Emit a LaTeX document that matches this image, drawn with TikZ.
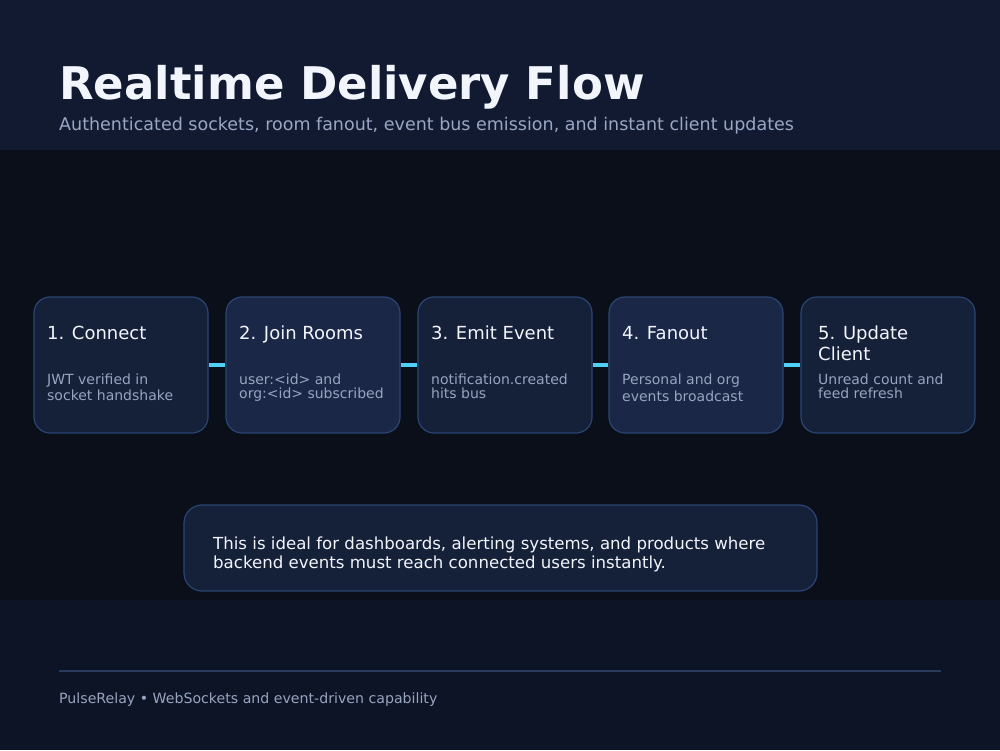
\documentclass[tikz,border=0pt]{standalone}
\usepackage{fontspec}
\setmainfont{DejaVu Sans}
\definecolor{hdrbg}{HTML}{111A30}
\definecolor{midbg}{HTML}{0A0F1A}
\definecolor{ftrbg}{HTML}{0D1426}
\definecolor{boxA}{HTML}{152039}
\definecolor{boxB}{HTML}{1A2746}
\definecolor{boxline}{HTML}{2B4573}
\definecolor{titlec}{HTML}{F2F5FC}
\definecolor{subc}{HTML}{9AA7C4}
\definecolor{desc}{HTML}{98A4C0}
\definecolor{wire}{HTML}{4FCFF3}
\definecolor{rule}{HTML}{2A3C5E}
\tikzset{
  stepbox/.style={draw=boxline, line width=1.2pt, rounded corners=16pt, minimum width=174pt, minimum height=136pt, inner sep=0pt},
  steptitle/.style={anchor=base west, inner sep=0pt, font=\fontsize{18}{21}\selectfont, text=titlec},
  stepdesc/.style={anchor=base west, inner sep=0pt, font=\fontsize{14}{15}\selectfont, text=desc},
  wirestyle/.style={draw=wire, line width=4pt},
  notetext/.style={anchor=base west, inner sep=0pt, font=\fontsize{16.6}{19}\selectfont, text=titlec},
}
\begin{document}
\begin{tikzpicture}[x=1pt,y=-1pt]
\useasboundingbox (0,0) rectangle (1000,750);
\fill[midbg] (0,0) rectangle (1000,750);
\fill[hdrbg] (0,0) rectangle (1000,150);
\fill[ftrbg] (0,600) rectangle (1000,750);
\node[anchor=base west, inner sep=0pt, font=\fontsize{45}{50}\selectfont\bfseries, text=titlec] (title) at (59,99) {Realtime Delivery Flow};
\node[anchor=base west, inner sep=0pt, font=\fontsize{17.5}{20}\selectfont, text=subc] (sub) at (59,130) {Authenticated sockets, room fanout, event bus emission, and instant client updates};
% boxes
\node[stepbox, fill=boxA] (b1) at (121,365) {};
\node[stepbox, fill=boxB] (b2) at (313,365) {};
\node[stepbox, fill=boxA] (b3) at (505,365) {};
\node[stepbox, fill=boxB] (b4) at (696,365) {};
\node[stepbox, fill=boxA] (b5) at (888,365) {};
\draw[wirestyle] (b1.east) -- (b2.west);
\draw[wirestyle] (b2.east) -- (b3.west);
\draw[wirestyle] (b3.east) -- (b4.west);
\draw[wirestyle] (b4.east) -- (b5.west);
% texts
\node[steptitle] (t1) at (47,339) {1. Connect};
\node[stepdesc] (d1a) at (47,384) {JWT verified in};
\node[stepdesc] (d1b) at (47,400) {socket handshake};
\node[steptitle] (t2) at (239,339) {2. Join Rooms};
\node[stepdesc] (d2a) at (239,384) {user:<id> and};
\node[stepdesc] (d2b) at (239,398) {org:<id> subscribed};
\node[steptitle] (t3) at (431,339) {3. Emit Event};
\node[stepdesc] (d3a) at (431,384) {notification.created};
\node[stepdesc] (d3b) at (431,398) {hits bus};
\node[steptitle] (t4) at (622,339) {4. Fanout};
\node[stepdesc] (d4a) at (622,384) {Personal and org};
\node[stepdesc] (d4b) at (622,401) {events broadcast};
\node[steptitle] (t5a) at (818,339) {5. Update};
\node[steptitle] (t5b) at (818,360) {Client};
\node[stepdesc] (d5a) at (818,384) {Unread count and};
\node[stepdesc] (d5b) at (818,398) {feed refresh};
% note
\node[draw=boxline, line width=1.2pt, fill=boxA, rounded corners=18pt, minimum width=633pt, minimum height=86pt, inner sep=0pt] (note) at (500.5,548) {};
\node[notetext] (n1) at (213,549) {This is ideal for dashboards, alerting systems, and products where};
\node[notetext] (n2) at (213,568) {backend events must reach connected users instantly.};
% footer
\coordinate (r1) at (59,671);
\coordinate (r2) at (941,671);
\draw[rule, line width=1.5pt] (r1) -- (r2);
\node[anchor=base west, inner sep=0pt, font=\fontsize{14.15}{16}\selectfont, text=desc] (foot) at (59,703) {PulseRelay • WebSockets and event-driven capability};
\end{tikzpicture}
\end{document}
